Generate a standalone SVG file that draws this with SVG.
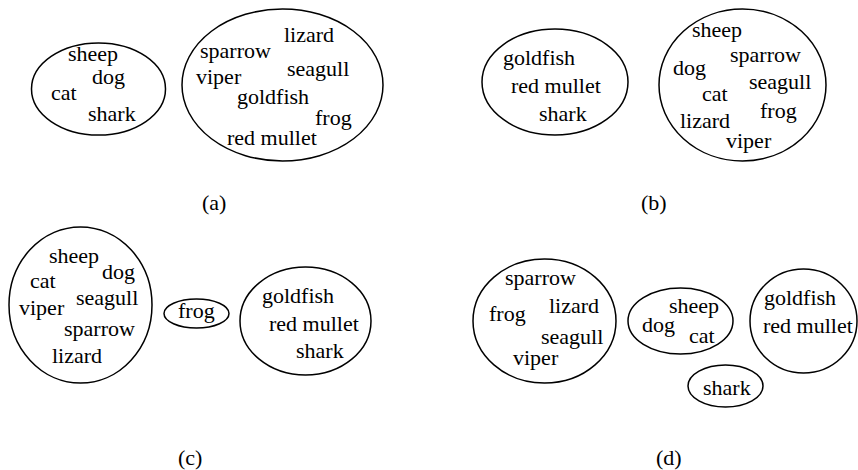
<svg xmlns="http://www.w3.org/2000/svg" width="858" height="470" viewBox="0 0 858 470">
<style>
  .c { fill: none; stroke: #000; stroke-width: 1.5; }
  text { font-family: "Liberation Serif", "Times New Roman", serif; font-size: 22px; fill: #000; }
</style>
<rect width="858" height="470" fill="#fff"/>
<g id="connectors"/>
<g id="panel-a">
  <g id="a-cluster1">
    <ellipse class="c" cx="98.5" cy="89" rx="67" ry="46"/>
    <text x="68" y="61">sheep</text>
    <text x="92" y="84">dog</text>
    <text x="51" y="100">cat</text>
    <text x="88" y="121">shark</text>
  </g>
  <g id="a-cluster2">
    <ellipse class="c" cx="282.5" cy="85" rx="100.5" ry="76"/>
    <text x="284" y="42">lizard</text>
    <text x="200" y="58">sparrow</text>
    <text x="287" y="76">seagull</text>
    <text x="196" y="84">viper</text>
    <text x="237" y="104">goldfish</text>
    <text x="315" y="125">frog</text>
    <text x="227" y="145">red mullet</text>
  </g>
  <text id="label-a" x="202" y="210">(a)</text>
</g>
<g id="panel-b">
  <g id="b-cluster1">
    <ellipse class="c" cx="555" cy="82" rx="73" ry="53"/>
    <text x="503" y="65">goldfish</text>
    <text x="511" y="93">red mullet</text>
    <text x="539" y="121">shark</text>
  </g>
  <g id="b-cluster2">
    <ellipse class="c" cx="742.5" cy="85" rx="83.5" ry="76"/>
    <text x="692" y="37">sheep</text>
    <text x="730" y="62">sparrow</text>
    <text x="673" y="75">dog</text>
    <text x="749" y="89">seagull</text>
    <text x="702" y="101">cat</text>
    <text x="760" y="118">frog</text>
    <text x="680" y="128">lizard</text>
    <text x="726" y="148">viper</text>
  </g>
  <text id="label-b" x="641" y="210">(b)</text>
</g>
<g id="panel-c">
  <g id="c-cluster1">
    <ellipse class="c" cx="80.5" cy="305" rx="71.5" ry="78"/>
    <text x="49" y="263">sheep</text>
    <text x="102" y="279">dog</text>
    <text x="30" y="288">cat</text>
    <text x="76" y="305">seagull</text>
    <text x="19" y="315">viper</text>
    <text x="64" y="336">sparrow</text>
    <text x="52" y="363">lizard</text>
  </g>
  <g id="c-cluster2">
    <ellipse class="c" cx="196.5" cy="313.5" rx="32.5" ry="14.5"/>
    <text x="178" y="318">frog</text>
  </g>
  <g id="c-cluster3">
    <ellipse class="c" cx="305.5" cy="321" rx="65.5" ry="54"/>
    <text x="262" y="303">goldfish</text>
    <text x="269" y="331">red mullet</text>
    <text x="296" y="358">shark</text>
  </g>
  <text id="label-c" x="178" y="465">(c)</text>
</g>
<g id="panel-d">
  <g id="d-cluster1">
    <ellipse class="c" cx="544.5" cy="321" rx="71.5" ry="62"/>
    <text x="505" y="285">sparrow</text>
    <text x="549" y="313">lizard</text>
    <text x="489" y="321">frog</text>
    <text x="541" y="344">seagull</text>
    <text x="513" y="365">viper</text>
  </g>
  <g id="d-cluster2">
    <ellipse class="c" cx="680.5" cy="321" rx="52.5" ry="33"/>
    <text x="669" y="313">sheep</text>
    <text x="642" y="332">dog</text>
    <text x="689" y="343">cat</text>
  </g>
  <g id="d-cluster3">
    <ellipse class="c" cx="803.5" cy="321" rx="53.5" ry="52"/>
    <text x="764" y="305">goldfish</text>
    <text x="763" y="333">red mullet</text>
  </g>
  <g id="d-cluster4">
    <ellipse class="c" cx="725.5" cy="386" rx="37.5" ry="21"/>
    <text x="703" y="395">shark</text>
  </g>
  <text id="label-d" x="656" y="465">(d)</text>
</g>
</svg>
